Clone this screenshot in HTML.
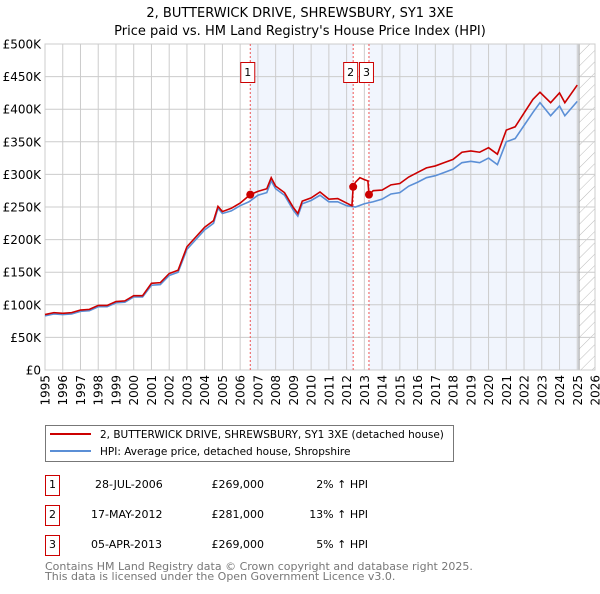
<!DOCTYPE html>
<html><head><meta charset="utf-8">
<style>
body{margin:0;background:#fff;font-family:"DejaVu Sans","Liberation Sans",sans-serif;}
svg text{font-family:"DejaVu Sans","Liberation Sans",sans-serif;}
</style></head>
<body>
<svg id="chart" width="600" height="590" viewBox="0 0 600 590" xmlns="http://www.w3.org/2000/svg">
<defs>
<pattern id="hatch" width="8" height="8" patternUnits="userSpaceOnUse" patternTransform="rotate(45)">
<line x1="0" y1="0" x2="0" y2="8" stroke="#bbb" stroke-width="1"/>
</pattern>
</defs>
<text x="300" y="17" text-anchor="middle" font-size="13">2, BUTTERWICK DRIVE, SHREWSBURY, SY1 3XE</text>
<text x="300" y="35" text-anchor="middle" font-size="13">Price paid vs. HM Land Registry's House Price Index (HPI)</text>
<g id="plot"></g>
<g>
<rect x="45.5" y="425.5" width="408" height="36" fill="#fff" stroke="#777"/>
<line x1="50" y1="434" x2="91" y2="434" stroke="#cc0000" stroke-width="2"/>
<text x="100" y="438" font-size="10.5">2, BUTTERWICK DRIVE, SHREWSBURY, SY1 3XE (detached house)</text>
<line x1="50" y1="451" x2="91" y2="451" stroke="#5b8fd6" stroke-width="2"/>
<text x="100" y="455" font-size="10.5">HPI: Average price, detached house, Shropshire</text>
</g>
<g font-size="11">
<rect x="45.5" y="475.5" width="14" height="20" fill="#fff" stroke="#cc0000"/><text x="52.5" y="488" text-anchor="middle">1</text>
<text x="95" y="488">28-JUL-2006</text><text x="264" y="488" text-anchor="end">£269,000</text><text x="368" y="488" text-anchor="end">2% ↑ HPI</text>
<rect x="45.5" y="505.5" width="14" height="20" fill="#fff" stroke="#cc0000"/><text x="52.5" y="518" text-anchor="middle">2</text>
<text x="91" y="518">17-MAY-2012</text><text x="264" y="518" text-anchor="end">£281,000</text><text x="368" y="518" text-anchor="end">13% ↑ HPI</text>
<rect x="45.5" y="535.5" width="14" height="20" fill="#fff" stroke="#cc0000"/><text x="52.5" y="548" text-anchor="middle">3</text>
<text x="91" y="548">05-APR-2013</text><text x="264" y="548" text-anchor="end">£269,000</text><text x="368" y="548" text-anchor="end">5% ↑ HPI</text>
</g>
<text x="45" y="570" font-size="11" fill="#777">Contains HM Land Registry data © Crown copyright and database right 2025.</text>
<text x="45" y="580" font-size="11" fill="#777">This data is licensed under the Open Government Licence v3.0.</text>
</svg>
<script>
const hpiYears=[1995,1995.5,1996,1996.5,1997,1997.5,1998,1998.5,1999,1999.5,2000,2000.5,2001,2001.5,2002,2002.5,2003,2003.5,2004,2004.5,2004.75,2005,2005.5,2006,2006.5,2007,2007.5,2007.75,2008,2008.5,2009,2009.25,2009.5,2010,2010.5,2011,2011.5,2012,2012.5,2013,2013.5,2014,2014.5,2015,2015.5,2016,2016.5,2017,2017.5,2018,2018.5,2019,2019.5,2020,2020.5,2021,2021.5,2022,2022.5,2022.9,2023.5,2024,2024.3,2025];
const hpiValues=[83,86,85,86,90,91,97,97,103,104,112,112,130,131,145,150,185,200,215,225,248,240,244,252,258,268,272,290,278,268,245,236,255,260,268,258,258,252,250,255,258,262,270,272,282,288,295,298,303,308,318,320,318,325,315,350,355,375,395,410,390,405,390,412];
const priceYears=[1995,1995.5,1996,1996.5,1997,1997.5,1998,1998.5,1999,1999.5,2000,2000.5,2001,2001.5,2002,2002.5,2003,2003.5,2004,2004.5,2004.75,2005,2005.5,2006,2006.57,2007,2007.5,2007.75,2008,2008.5,2009,2009.25,2009.5,2010,2010.5,2011,2011.5,2012,2012.3,2012.37,2012.5,2012.75,2013,2013.2,2013.26,2013.5,2014,2014.5,2015,2015.5,2016,2016.5,2017,2017.5,2018,2018.5,2019,2019.5,2020,2020.5,2021,2021.5,2022,2022.5,2022.9,2023.5,2024,2024.3,2025];
const priceValues=[85,88,87,88,92,93,99,99,105,106,114,114,133,134,148,153,189,204,219,229,251,243,248,256,269,274,278,295,282,272,249,240,259,264,273,262,263,256,252,281,288,295,292,290,269,275,276,284,286,296,303,310,313,318,323,334,336,334,341,331,368,373,394,415,426,410,425,410,437];
const saleYears=[2006.57,2012.37,2013.26];
const saleValues=[269,281,269];
const saleLabels=["1","2","3"];
const yTicks=[0,50,100,150,200,250,300,350,400,450,500];
const yTickLabels=["£0","£50K","£100K","£150K","£200K","£250K","£300K","£350K","£400K","£450K","£500K"];
const xTicks=[1995,1996,1997,1998,1999,2000,2001,2002,2003,2004,2005,2006,2007,2008,2009,2010,2011,2012,2013,2014,2015,2016,2017,2018,2019,2020,2021,2022,2023,2024,2025,2026];

const L=45,R=595,T=44,B=370;
const X=y=>L+(y-1995)/(2026-1995)*(R-L);
const Y=v=>B-v/500*(B-T);
const NS="http://www.w3.org/2000/svg";
const g=document.getElementById('plot');
function mk(tag,attrs){const e=document.createElementNS(NS,tag);for(const k in attrs)e.setAttribute(k,attrs[k]);g.appendChild(e);return e;}
const lastData=2025.1;
let e;
e=mk('rect',{x:X(saleYears[0]),y:T,width:X(saleYears[1])-X(saleYears[0]),height:B-T,fill:'#f1f5fd'});


e=mk('rect',{x:X(saleYears[2]),y:T,width:X(lastData)-X(saleYears[2]),height:B-T,fill:'#f1f5fd'});


e=mk('rect',{x:X(lastData),y:T,width:R-X(lastData),height:B-T,fill:'url(#hatch)'});


yTicks.forEach((t,i)=>{
 e=mk('line',{x1:L,x2:R,y1:Y(t),y2:Y(t),stroke:'#ccc','stroke-width':1});
 
 
 e=mk('text',{x:L-4,y:Y(t)+4.5,'text-anchor':'end','font-size':'12'});
 e.textContent=yTickLabels[i];
 
 
});
xTicks.forEach(t=>{
 e=mk('line',{x1:X(t),x2:X(t),y1:T,y2:B,stroke:'#ccc','stroke-width':1});
 
 
 e=mk('text',{x:0,y:0,'font-size':'12','text-anchor':'end',transform:`translate(${X(t)+4.5},${B+5}) rotate(-90)`});
 e.textContent=t;
 
 
});
e=mk('line',{x1:X(lastData),x2:X(lastData),y1:T,y2:B,stroke:'#999','stroke-width':1});


e=mk('rect',{x:L,y:T,width:R-L,height:B-T,fill:'none',stroke:'#ccc'});


saleYears.forEach((s,i)=>{
 e=mk('line',{x1:X(s),x2:X(s),y1:T,y2:B,stroke:'#e55','stroke-width':1,'stroke-dasharray':'2,2'});
 
 
});
e=mk('polyline',{points:hpiYears.map((y,i)=>X(y)+','+Y(hpiValues[i])).join(' '),fill:'none',stroke:'#5b8fd6','stroke-width':1.6});


e=mk('polyline',{points:priceYears.map((y,i)=>X(y)+','+Y(priceValues[i])).join(' '),fill:'none',stroke:'#cc0000','stroke-width':1.6});


saleYears.forEach((s,i)=>{
 e=mk('circle',{cx:X(s),cy:Y(saleValues[i]),r:4,fill:'#cc0000'});
 
 
 const bx=X(s)-10;
 e=mk('rect',{x:bx+0.5,y:62.5,width:14,height:20,fill:'#fff',stroke:'#cc0000'});
 
 
 e=mk('text',{x:bx+7.5,y:76,'text-anchor':'middle','font-size':'11'});
 e.textContent=saleLabels[i];
 
 
});
</script>
</body></html>
